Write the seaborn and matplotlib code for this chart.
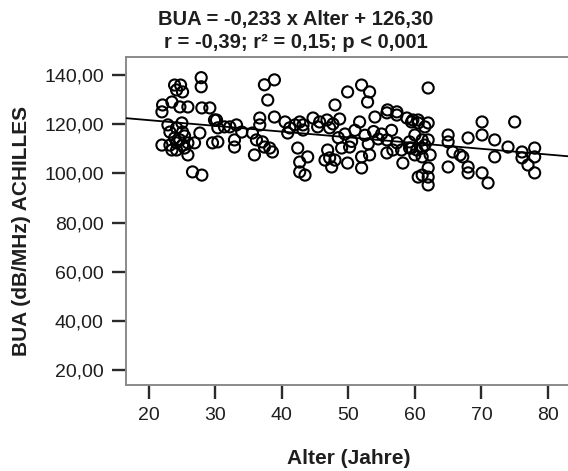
import numpy as np
import seaborn as sns
import matplotlib.pyplot as plt

# Alter (Jahre) und BUA (dB/MHz)
alter = [
    27.9, 27.9, 23.9, 24.8, 24.2, 25.1, 22.1, 22.0, 23.5, 24.7, 25.9, 28.0,
    29.2, 29.9, 22.9, 23.2, 24.2, 25.0, 25.1, 27.7, 22.0, 23.2, 24.2, 25.1,
    25.9, 26.9, 29.6, 24.2, 25.4, 25.9, 26.6, 28.0, 23.9, 24.7, 25.4, 23.5,
    38.9, 37.4, 37.9, 38.9, 36.7, 36.7, 30.2, 30.4, 31.4, 32.2, 33.2, 34.0,
    30.4, 32.9, 32.9, 35.6, 36.2, 37.1, 37.4, 38.2, 38.6, 35.9, 40.5, 41.2,
    42.0, 42.7, 43.2, 40.9, 42.4, 42.7, 42.7, 43.5, 43.9, 43.2,
    48.0, 49.9, 52.0, 53.2, 52.9, 44.7, 45.7, 46.8, 47.7, 48.7, 45.4, 47.2,
    51.7, 54.0, 55.8, 57.3, 58.8, 46.9, 49.0, 50.2, 46.5, 48.0, 49.9, 52.0,
    53.2, 47.5, 55.8, 56.7, 58.0, 59.2, 58.2, 60.5, 55.9, 57.3, 59.7, 60.5,
    55.8, 57.3, 59.2, 60.3, 52.0, 47.2, 49.5, 51.0, 52.5, 53.8, 55.0, 50.5,
    53.0, 54.5, 56.5, 48.5,
    62.0, 59.5, 60.5, 61.5, 60.0, 61.1, 62.0, 61.5, 59.5, 61.1, 61.1, 62.3,
    60.0, 62.0, 61.1, 62.0, 62.0, 65.0, 65.0, 65.0, 65.7, 66.8, 67.2, 68.0,
    70.1, 70.1, 72.0, 72.0, 68.0, 68.0, 70.1, 71.0, 74.0, 75.0, 76.1, 76.1,
    78.0, 78.0, 77.0, 78.0, 62.0,
]
bua = [
    138.9, 135.2, 135.9, 135.9, 133.9, 133.1, 127.8, 125.0, 129.0, 127.0, 127.0, 126.6,
    126.6, 121.7, 119.7, 116.8, 118.5, 120.5, 116.8, 116.4, 111.5, 111.5, 112.4, 111.5,
    112.4, 112.4, 112.4, 109.5, 110.3, 107.5, 100.6, 99.3, 114.4, 113.6, 115.2, 109.5,
    138.0, 136.0, 129.8, 122.9, 122.5, 119.7, 121.7, 118.5, 118.9, 118.9, 119.7, 116.8,
    112.8, 113.6, 110.7, 116.4, 113.6, 112.8, 110.7, 110.3, 108.7, 107.5, 120.9, 118.5,
    119.7, 120.9, 117.6, 116.4, 110.3, 104.6, 100.6, 99.3, 106.7, 119.7,
    127.8, 133.1, 135.9, 133.1, 129.0, 122.5, 120.9, 121.7, 120.1, 122.1, 118.9, 118.5,
    120.9, 122.9, 124.6, 123.7, 122.5, 109.5, 110.3, 110.7, 105.4, 105.4, 104.2, 106.7,
    107.5, 102.6, 108.3, 109.5, 109.5, 110.3, 104.2, 98.5, 125.8, 125.0, 121.7, 120.5,
    113.6, 112.4, 112.8, 109.5, 102.2, 106.3, 116.0, 117.5, 115.5, 117.0, 116.0, 113.0,
    112.0, 114.0, 117.5, 114.5,
    134.7, 120.9, 121.7, 118.9, 115.6, 113.6, 113.6, 111.5, 110.3, 110.3, 106.7, 107.5,
    107.5, 102.2, 99.3, 98.5, 95.3, 115.6, 112.8, 102.6, 108.7, 107.5, 106.7, 114.4,
    120.9, 115.6, 113.6, 106.7, 102.6, 100.2, 100.2, 96.1, 110.7, 120.9, 108.7, 106.3,
    110.3, 106.7, 103.4, 100.2, 120.5,
]

steigung = -0.233
achsenabschnitt = 126.30

x_ticks = [20, 30, 40, 50, 60, 70, 80]
y_ticks = [20, 40, 60, 80, 100, 120, 140]
y_ticklabels = ["20,00", "40,00", "60,00", "80,00", "100,00", "120,00", "140,00"]

titel_1 = "BUA = -0,233 x Alter + 126,30"
titel_2 = "r = -0,39; r² = 0,15; p < 0,001"

sns.set_theme(style="white")
plt.rcParams["font.family"] = ["Liberation Sans", "DejaVu Sans"]

txt = "#1e1e1e"

fig = plt.figure(figsize=(5.68, 4.71), dpi=100)
ax = fig.add_axes([0.2218, 0.1826, 0.798, 0.6964])

sns.scatterplot(x=alter, y=bua, ax=ax, marker="o", s=64,
                facecolor="none", edgecolor="black", linewidth=1.5, zorder=3)

ax.set_xlim(16.6, 84.7)
ax.set_ylim(14.0, 147.3)

# Regressionsgerade aus der Gleichung im Titel
xs = np.array(ax.get_xlim())
sns.lineplot(x=xs, y=steigung * xs + achsenabschnitt, ax=ax,
             color="black", linewidth=1.3, zorder=4)

ax.set_xticks(x_ticks)
ax.set_xticklabels([str(t) for t in x_ticks])
ax.set_yticks(y_ticks)
ax.set_yticklabels(y_ticklabels)
ax.tick_params(axis="both", direction="out", length=10, width=1.7,
               color="#2a2a2a", labelsize=14, labelcolor=txt,
               bottom=True, left=True)
ax.tick_params(axis="x", pad=6)
ax.tick_params(axis="y", pad=6)

for side in ["left", "bottom", "top"]:
    ax.spines[side].set_color("#8a8a8a")
    ax.spines[side].set_linewidth(1.4)
ax.spines["right"].set_visible(False)

ax.set_xlabel("")
ax.set_ylabel("")
fig.text(348.5 / 568, 1 - 459 / 471, "Alter (Jahre)", ha="center", va="center",
         fontsize=15, fontweight="bold", color=txt)
fig.text(22 / 568, 1 - 231 / 471, "BUA (dB/MHz) ACHILLES", ha="center",
         va="center", rotation=90, fontsize=15, fontweight="bold", color=txt)

fig.text(296 / 568, 1 - 20 / 471, titel_1, ha="center", va="center",
         fontsize=14.5, fontweight="bold", color=txt)
fig.text(296 / 568, 1 - 43 / 471, titel_2, ha="center", va="center",
         fontsize=14.5, fontweight="bold", color=txt)

fig.savefig("out.png", dpi=100)
